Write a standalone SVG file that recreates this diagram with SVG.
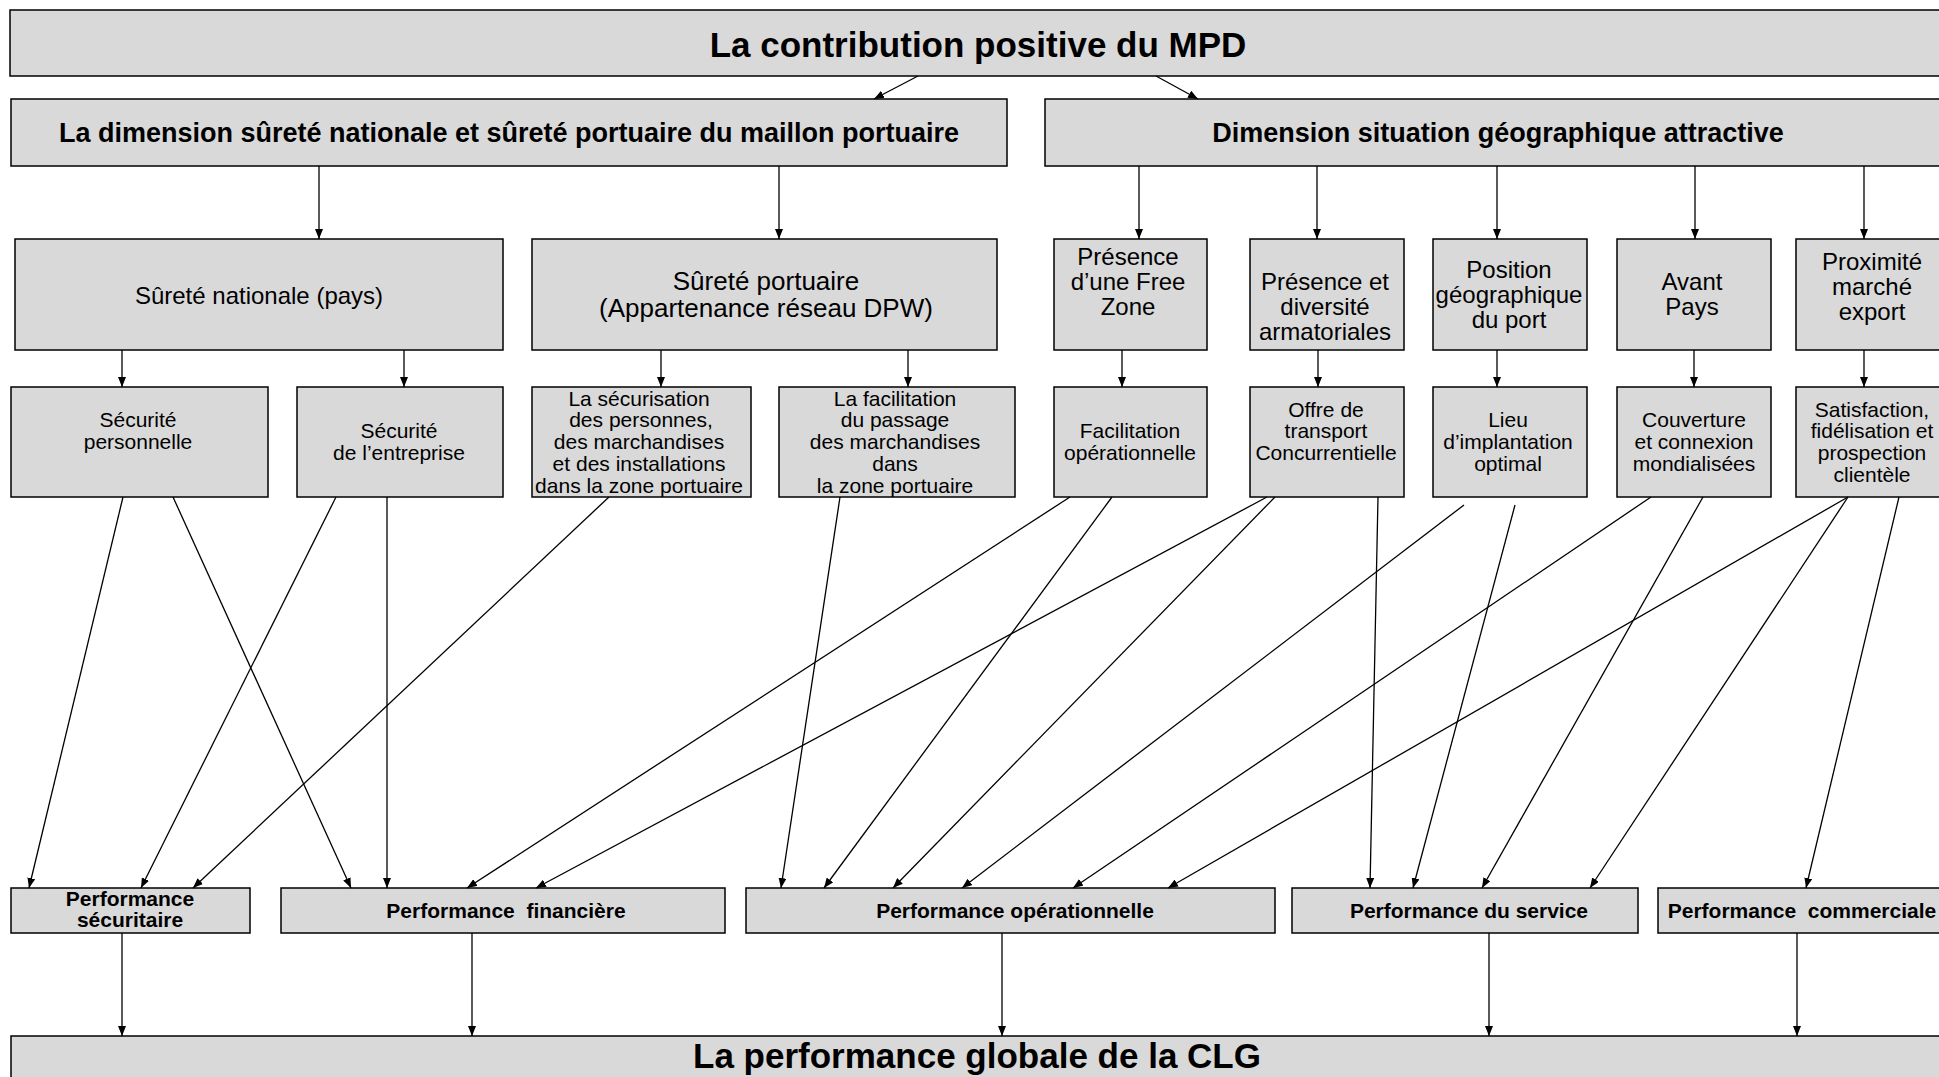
<svg xmlns="http://www.w3.org/2000/svg" width="1939" height="1077" viewBox="0 0 1939 1077">
<style>
.box{fill:#d9d9d9;stroke:#000;stroke-width:1.5}
.t{font-family:"Liberation Sans",Arial,sans-serif;fill:#000;text-anchor:middle}
.b{font-weight:bold}
.s35{font-size:35px}.s27{font-size:27px}.s26{font-size:26px}.s24{font-size:24px}.s21{font-size:21px}
.c line{stroke:#000;stroke-width:1.3;marker-end:url(#ah)}
</style>
<defs>
<marker id="ah" markerUnits="userSpaceOnUse" markerWidth="11" markerHeight="8" refX="10" refY="4" orient="auto">
<path d="M0,0 L10,4 L0,8 z" fill="#000"/>
</marker>
</defs>
<rect width="1939" height="1077" fill="#fff"/>

<g id="contribution"><rect class="box" x="10" y="10" width="1945" height="66"/><text class="t b s35" x="978" y="57">La contribution positive du MPD</text></g>

<g id="dim-surete"><rect class="box" x="11" y="99" width="996" height="67"/><text class="t b s27" x="509" y="142">La dimension sûreté nationale et sûreté portuaire du maillon portuaire</text></g>
<g id="dim-geo"><rect class="box" x="1045" y="99" width="915" height="67"/><text class="t b s27" x="1498" y="142">Dimension situation géographique attractive</text></g>

<g id="surete-nationale"><rect class="box" x="15" y="239" width="488" height="111"/><text class="t s24" x="259" y="304">Sûreté nationale (pays)</text></g>
<g id="surete-portuaire"><rect class="box" x="532" y="239" width="465" height="111"/><text class="t s26"><tspan x="766" y="290">Sûreté portuaire</tspan><tspan x="766" y="317">(Appartenance réseau DPW)</tspan></text></g>
<g id="free-zone"><rect class="box" x="1054" y="239" width="153" height="111"/><text class="t s24"><tspan x="1128" y="265">Présence</tspan><tspan x="1128" y="290">d’une Free</tspan><tspan x="1128" y="315">Zone</tspan></text></g>
<g id="armatoriales"><rect class="box" x="1250" y="239" width="154" height="111"/><text class="t s24"><tspan x="1325" y="290">Présence et</tspan><tspan x="1325" y="315">diversité</tspan><tspan x="1325" y="340">armatoriales</tspan></text></g>
<g id="position"><rect class="box" x="1433" y="239" width="154" height="111"/><text class="t s24"><tspan x="1509" y="278">Position</tspan><tspan x="1509" y="303">géographique</tspan><tspan x="1509" y="328">du port</tspan></text></g>
<g id="avant-pays"><rect class="box" x="1617" y="239" width="154" height="111"/><text class="t s24"><tspan x="1692" y="290">Avant</tspan><tspan x="1692" y="315">Pays</tspan></text></g>
<g id="proximite"><rect class="box" x="1796" y="239" width="154" height="111"/><text class="t s24"><tspan x="1872" y="270">Proximité</tspan><tspan x="1872" y="295">marché</tspan><tspan x="1872" y="320">export</tspan></text></g>

<g id="securite-perso"><rect class="box" x="11" y="387" width="257" height="110"/><text class="t s21"><tspan x="138" y="427">Sécurité</tspan><tspan x="138" y="449">personnelle</tspan></text></g>
<g id="securite-entreprise"><rect class="box" x="297" y="387" width="206" height="110"/><text class="t s21"><tspan x="399" y="438">Sécurité</tspan><tspan x="399" y="460">de l’entreprise</tspan></text></g>
<g id="securisation"><rect class="box" x="532" y="387" width="219" height="110"/><text class="t s21"><tspan x="639" y="406">La sécurisation</tspan><tspan x="641" y="427">des personnes,</tspan><tspan x="639" y="449">des marchandises</tspan><tspan x="639" y="471">et des installations</tspan><tspan x="639" y="493">dans la zone portuaire</tspan></text></g>
<g id="facilitation-passage"><rect class="box" x="779" y="387" width="236" height="110"/><text class="t s21"><tspan x="895" y="406">La facilitation</tspan><tspan x="895" y="427">du passage</tspan><tspan x="895" y="449">des marchandises</tspan><tspan x="895" y="471">dans</tspan><tspan x="895" y="493">la zone portuaire</tspan></text></g>
<g id="facilitation-op"><rect class="box" x="1054" y="387" width="153" height="110"/><text class="t s21"><tspan x="1130" y="438">Facilitation</tspan><tspan x="1130" y="460">opérationnelle</tspan></text></g>
<g id="offre-transport"><rect class="box" x="1250" y="387" width="154" height="110"/><text class="t s21"><tspan x="1326" y="417">Offre de</tspan><tspan x="1326" y="438">transport</tspan><tspan x="1326" y="460">Concurrentielle</tspan></text></g>
<g id="lieu"><rect class="box" x="1433" y="387" width="154" height="110"/><text class="t s21"><tspan x="1508" y="427">Lieu</tspan><tspan x="1508" y="449">d’implantation</tspan><tspan x="1508" y="471">optimal</tspan></text></g>
<g id="couverture"><rect class="box" x="1617" y="387" width="154" height="110"/><text class="t s21"><tspan x="1694" y="427">Couverture</tspan><tspan x="1694" y="449">et connexion</tspan><tspan x="1694" y="471">mondialisées</tspan></text></g>
<g id="satisfaction"><rect class="box" x="1796" y="387" width="154" height="110"/><text class="t s21"><tspan x="1872" y="417">Satisfaction,</tspan><tspan x="1872" y="438">fidélisation et</tspan><tspan x="1872" y="460">prospection</tspan><tspan x="1872" y="482">clientèle</tspan></text></g>

<g id="perf-securitaire"><rect class="box" x="11" y="888" width="239" height="45"/><text class="t b s21"><tspan x="130" y="906">Performance</tspan><tspan x="130" y="927">sécuritaire</tspan></text></g>
<g id="perf-financiere"><rect class="box" x="281" y="888" width="444" height="45"/><text class="t b s21" x="506" y="918" xml:space="preserve">Performance  financière</text></g>
<g id="perf-operationnelle"><rect class="box" x="746" y="888" width="529" height="45"/><text class="t b s21" x="1015" y="918">Performance opérationnelle</text></g>
<g id="perf-service"><rect class="box" x="1292" y="888" width="346" height="45"/><text class="t b s21" x="1469" y="918">Performance du service</text></g>
<g id="perf-commerciale"><rect class="box" x="1658" y="888" width="292" height="45"/><text class="t b s21" x="1802" y="918" xml:space="preserve">Performance  commerciale</text></g>

<g id="performance-globale"><rect class="box" x="11" y="1036" width="1945" height="60"/><text class="t b s35" x="977" y="1068">La performance globale de la CLG</text></g>

<g id="connectors" class="c">
<line x1="918" y1="76" x2="874" y2="99"/>
<line x1="1156" y1="76" x2="1198" y2="99"/>
<line x1="319" y1="166" x2="319" y2="239"/>
<line x1="779" y1="166" x2="779" y2="239"/>
<line x1="1139" y1="166" x2="1139" y2="239"/>
<line x1="1317" y1="166" x2="1317" y2="239"/>
<line x1="1497" y1="166" x2="1497" y2="239"/>
<line x1="1695" y1="166" x2="1695" y2="239"/>
<line x1="1864" y1="166" x2="1864" y2="239"/>
<line x1="122" y1="350" x2="122" y2="387"/>
<line x1="404" y1="350" x2="404" y2="387"/>
<line x1="661" y1="350" x2="661" y2="387"/>
<line x1="908" y1="350" x2="908" y2="387"/>
<line x1="1122" y1="350" x2="1122" y2="387"/>
<line x1="1318" y1="350" x2="1318" y2="387"/>
<line x1="1497" y1="350" x2="1497" y2="387"/>
<line x1="1694" y1="350" x2="1694" y2="387"/>
<line x1="1864" y1="350" x2="1864" y2="387"/>
<line x1="123" y1="497" x2="29" y2="888"/>
<line x1="173" y1="497" x2="351" y2="888"/>
<line x1="336" y1="497" x2="141" y2="888"/>
<line x1="387" y1="497" x2="387" y2="888"/>
<line x1="609" y1="497" x2="193" y2="888"/>
<line x1="840" y1="497" x2="781" y2="888"/>
<line x1="1070" y1="497" x2="467" y2="888"/>
<line x1="1112" y1="497" x2="824" y2="888"/>
<line x1="1267" y1="497" x2="536" y2="888"/>
<line x1="1275" y1="497" x2="893" y2="888"/>
<line x1="1378" y1="497" x2="1370" y2="888"/>
<line x1="1464" y1="505" x2="962" y2="888"/>
<line x1="1515" y1="505" x2="1413" y2="888"/>
<line x1="1651" y1="497" x2="1073" y2="888"/>
<line x1="1703" y1="497" x2="1482" y2="888"/>
<line x1="1848" y1="497" x2="1168" y2="888"/>
<line x1="1848" y1="497" x2="1590" y2="888"/>
<line x1="1899" y1="497" x2="1806" y2="888"/>
<line x1="122" y1="933" x2="122" y2="1036"/>
<line x1="472" y1="933" x2="472" y2="1036"/>
<line x1="1002" y1="933" x2="1002" y2="1036"/>
<line x1="1489" y1="933" x2="1489" y2="1036"/>
<line x1="1797" y1="933" x2="1797" y2="1036"/>
</g>
</svg>
